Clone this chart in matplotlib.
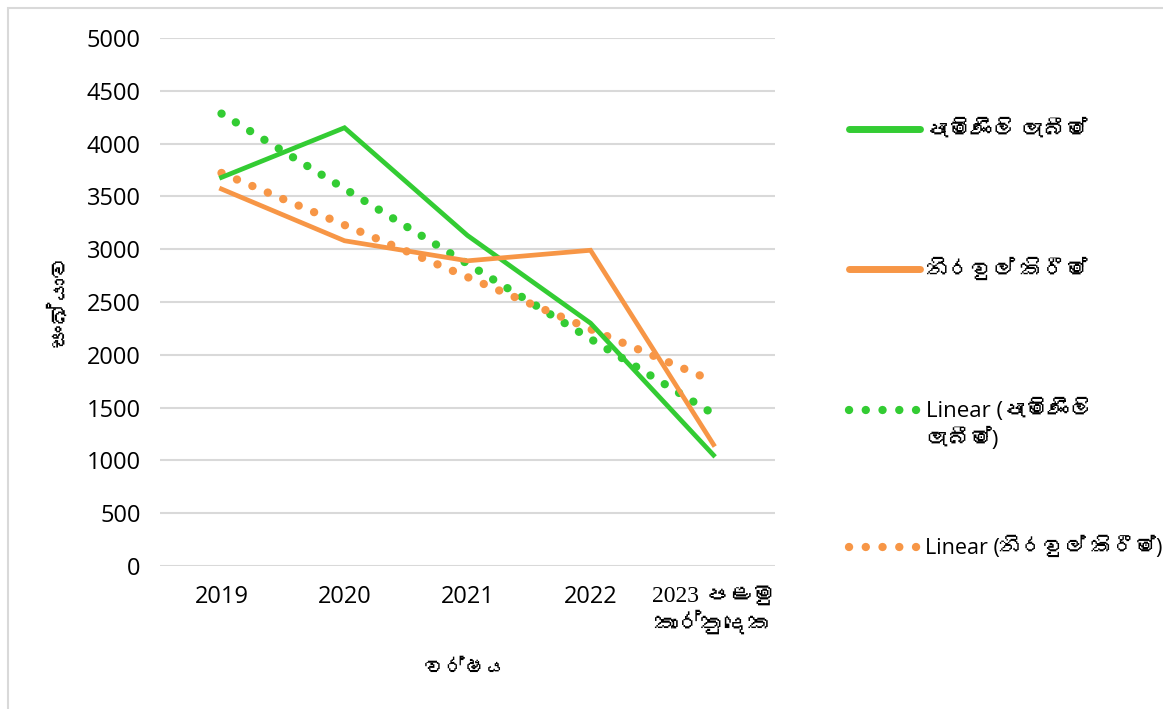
import matplotlib
matplotlib.use("Agg")
import matplotlib.pyplot as plt
from matplotlib.lines import Line2D
from matplotlib.patches import Rectangle
from matplotlib import font_manager as fm
import numpy as np

# ---------------- data ----------------
categories = ["2019", "2020", "2021", "2022", "2023 පළමු\nකාර්තුදෙක"]
complaints_received = [3680, 4150, 3130, 2300, 1050]   # පැමිණිලි ලැබීම්
complaints_cleared = [3570, 3080, 2890, 2990, 1150]    # නිරවුල් කිරීම්
series_names = ["පැමිණිලි ලැබීම්", "නිරවුල් කිරීම්"]
trend_names = ["Linear (පැමිණිලි\nලැබීම්)", "Linear (නිරවුල් කිරීම්)"]
y_ticks = [0, 500, 1000, 1500, 2000, 2500, 3000, 3500, 4000, 4500, 5000]
y_label = "සංඛ්යාව"
x_label = "වර්ෂය"

GREEN = "#33CC33"
ORANGE = "#F79646"

# ---------------- fonts ----------------
sinhala_fonts = []
try:
    from fontTools.ttLib import TTFont
    for f in sorted(set(fm.findSystemFonts())):
        try:
            tt = TTFont(f, fontNumber=0, lazy=True)
            cmap = tt.getBestCmap() or {}
            if 0x0DB4 in cmap:
                name = tt["name"].getDebugName(1)
                if name and name not in sinhala_fonts:
                    fm.fontManager.addfont(f)
                    sinhala_fonts.append(name)
        except Exception:
            pass
except Exception:
    pass

sans = ["Open Sans"] + sinhala_fonts + ["DejaVu Sans"]
serif = ["Liberation Serif"] + sinhala_fonts + ["DejaVu Serif"]
plt.rcParams["font.family"] = sans

# ---------------- figure ----------------
W, H = 1163, 709
fig = plt.figure(figsize=(W / 100, H / 100), dpi=100)
fig.patch.set_facecolor("white")

# chart border
fig.add_artist(Rectangle((8 / W, -0.1), 1.2, 1 - 8 / H + 0.1, transform=fig.transFigure,
                         fill=False, edgecolor="#d9d9d9", linewidth=1.5))

ax_l, ax_r, ax_t, ax_b = 160, 775, 38, 566
ax = fig.add_axes([ax_l / W, 1 - ax_b / H, (ax_r - ax_l) / W, (ax_b - ax_t) / H])

x = np.arange(1, len(categories) + 1)
ax.set_xlim(0.5, len(categories) + 0.5)
ax.set_ylim(0, 5000)

for s in ax.spines.values():
    s.set_visible(False)
ax.set_yticks(y_ticks)
ax.set_yticklabels([str(v) for v in y_ticks], fontsize=17, color="black")
ax.yaxis.grid(True, color="#d9d9d9", linewidth=1.5)
ax.set_axisbelow(True)
ax.tick_params(axis="y", length=0, pad=14)
ax.set_xticks(x)
ax.set_xticklabels(categories, fontsize=17, color="black")
ax.tick_params(axis="x", length=0, pad=14)
for lbl in ax.get_xticklabels():
    if "\n" in lbl.get_text():
        lbl.set_family(serif)
        lbl.set_fontsize(17)
        lbl.set_linespacing(1.25)

# trend lines (ordinary least squares, like Excel linear trendline)
dot_style = (0, (0.01, 2.0))
for vals, col in [(complaints_received, GREEN), (complaints_cleared, ORANGE)]:
    m, b = np.polyfit(x, vals, 1)
    ax.plot(x, m * x + b, color=col, linewidth=6, linestyle=dot_style,
            dash_capstyle="round", zorder=2)

ax.plot(x, complaints_received, color=GREEN, linewidth=3.4, solid_joinstyle="miter",
        zorder=3)
ax.plot(x, complaints_cleared, color=ORANGE, linewidth=3.4, solid_joinstyle="miter",
        zorder=3)

# axis titles
fig.text(60 / W, 1 - 300 / H, y_label, rotation=90, ha="center", va="center",
         fontsize=17, fontweight="bold", family=sans)
fig.text(466 / W, 1 - 668 / H, x_label, ha="center", va="center",
         fontsize=15, fontweight="bold", family=sans)

# legend (one entry per box so each handle sits on its first text line)
entries = [
    (Line2D([], [], color=GREEN, linewidth=5, solid_capstyle="round"), series_names[0], 131, 16, 0),
    (Line2D([], [], color=ORANGE, linewidth=5, solid_capstyle="round"), series_names[1], 270, 16, 0),
    (Line2D([], [], color=GREEN, linewidth=6, linestyle=dot_style, dash_capstyle="round"), trend_names[0], 425, 16, 10.8),
    (Line2D([], [], color=ORANGE, linewidth=6, linestyle=dot_style, dash_capstyle="round"), trend_names[1], 548, 15.5, 0),
]
for h, lab, ypix, fs, shift in entries:
    leg = fig.legend([h], [lab], loc="center left", bbox_to_anchor=(849 / W, 1 - ypix / H),
                     frameon=False, fontsize=fs, handlelength=71 / (fs * 100 / 72),
                     handletextpad=0.25, borderpad=0, borderaxespad=0)
    for t in leg.get_texts():
        t.set_linespacing(1.35)
    if shift:
        for lh in leg.legend_handles:
            yd = np.asarray(lh.get_ydata(), dtype=float)
            lh.set_ydata(yd + shift)

fig.savefig("out.png", dpi=100, facecolor="white")
